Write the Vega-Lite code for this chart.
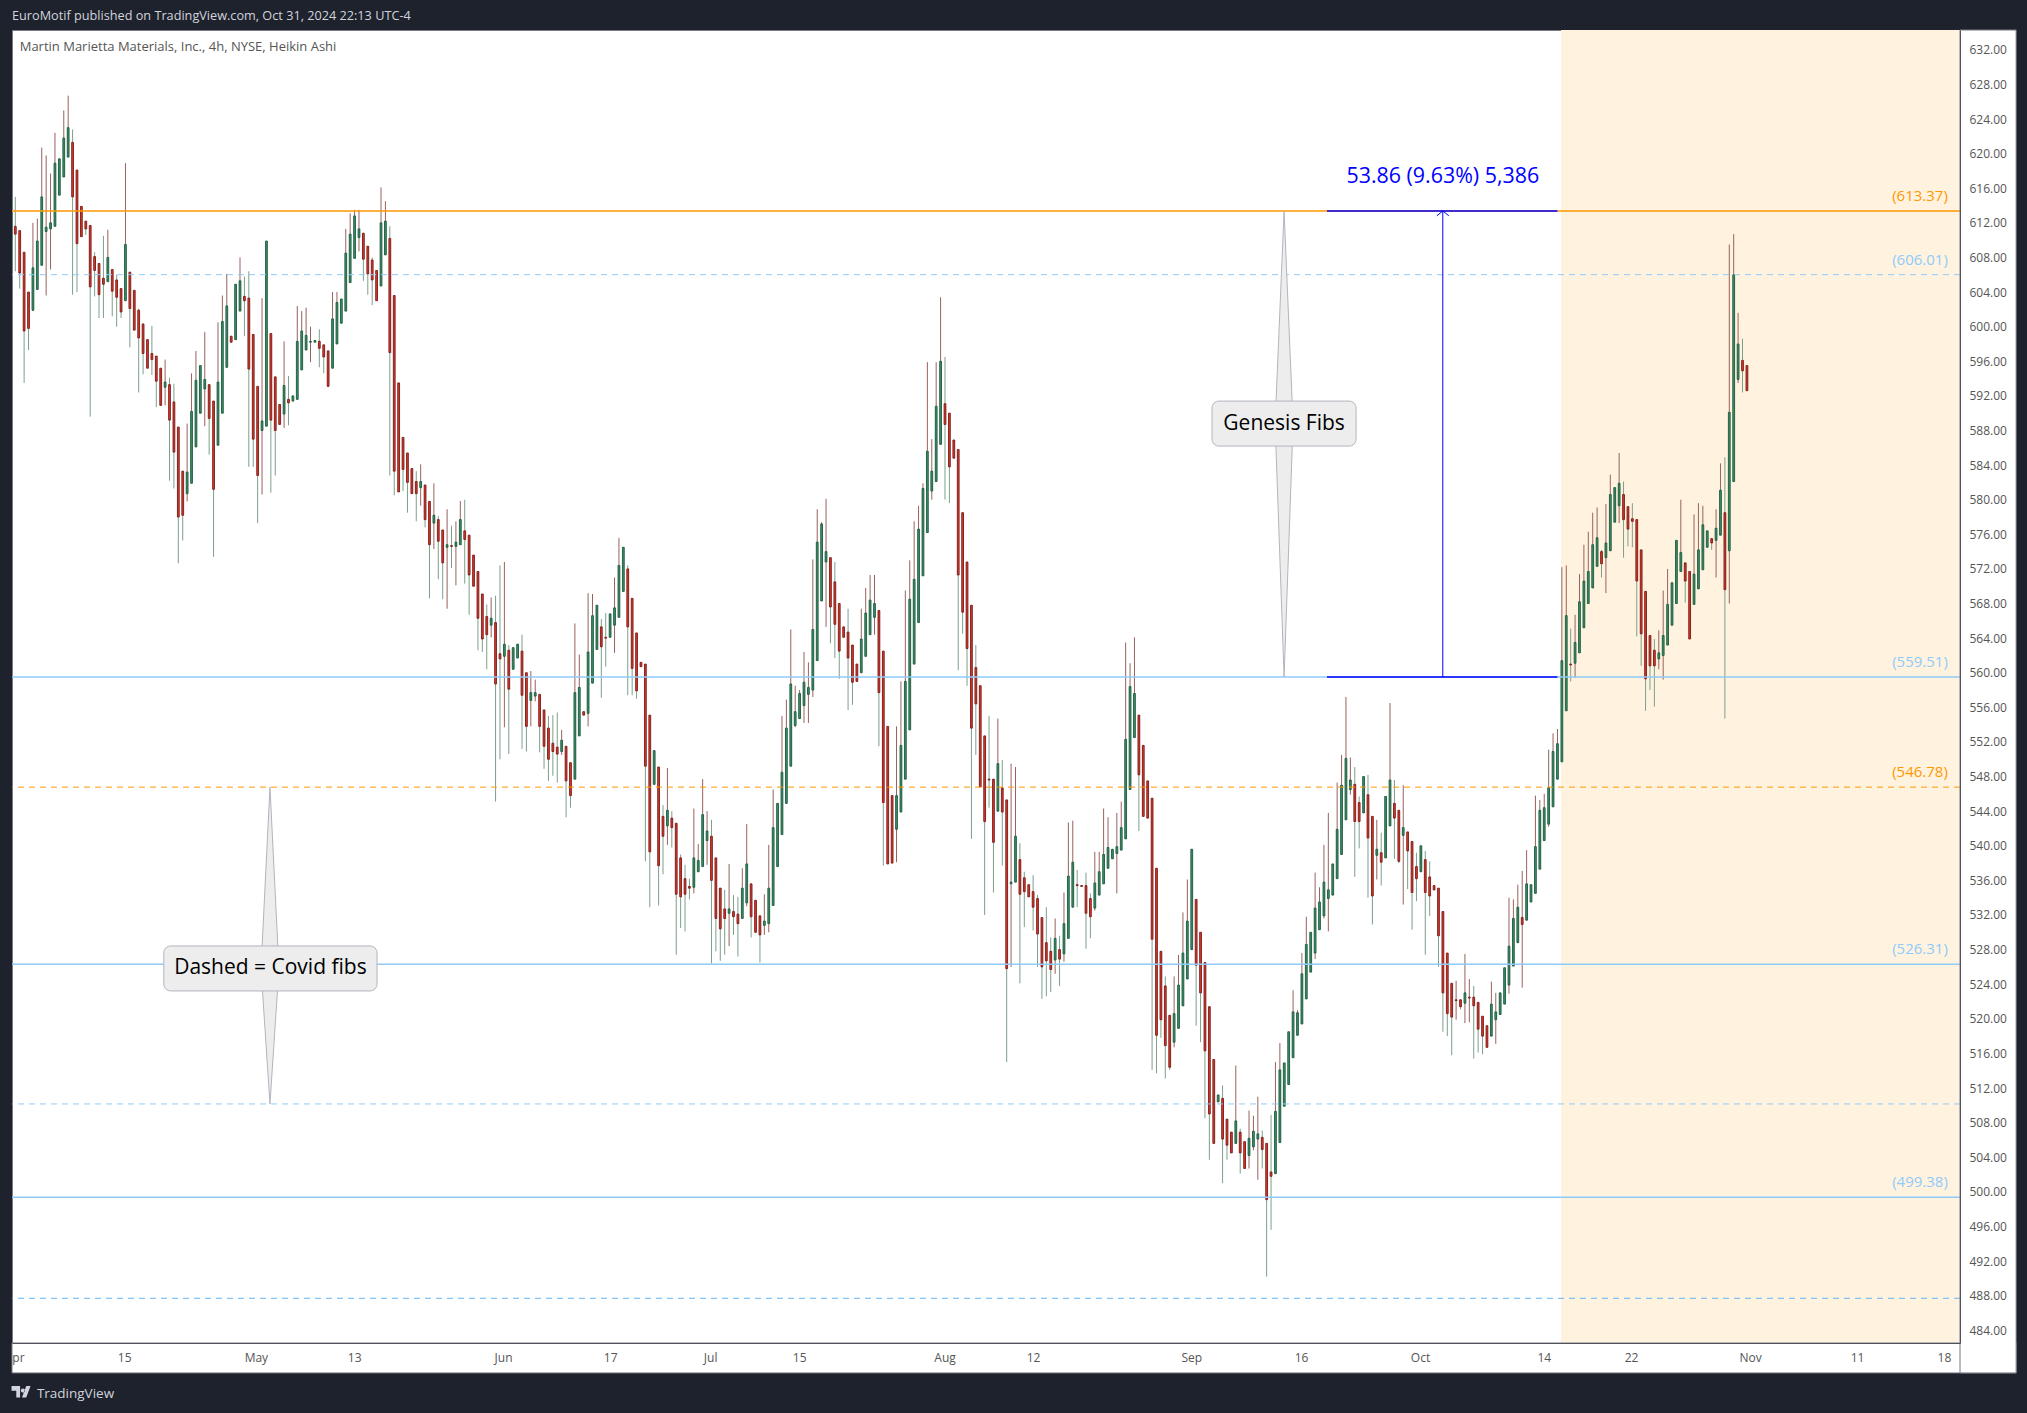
{"$schema":"https://vega.github.io/schema/vega-lite/v6.json","width":1948,"height":1313,"autosize":{"type":"none"},"padding":{"left":12,"top":30,"right":67,"bottom":70},"background":"#1e222d","title":{"text":"EuroMotif published on TradingView.com, Oct 31, 2024 22:13 UTC-4","anchor":"start","color":"#d1d4dc","fontSize":12.7,"font":"Open Sans","fontWeight":"normal","offset":7,"frame":"group"},"config":{"view":{"fill":"#ffffff","stroke":"#787b86"},"font":"Open Sans","axis":{"grid":false}},"datasets":{"candles":[
{"i":-1,"o":610.0,"c":613.1,"h":613.1,"l":610.0,"w":"u"},
{"i":0,"o":611.6,"c":610.7,"h":615.0,"l":606.4,"w":"u"},
{"i":1,"o":611.1,"c":606.2,"h":611.1,"l":604.4,"w":"u"},
{"i":2,"o":608.6,"c":599.5,"h":608.6,"l":593.5,"w":"u"},
{"i":3,"o":604.0,"c":599.8,"h":604.0,"l":597.3,"w":"u"},
{"i":4,"o":601.9,"c":606.8,"h":612.0,"l":601.8,"w":"d"},
{"i":5,"o":604.3,"c":609.9,"h":612.5,"l":604.3,"w":"d"},
{"i":6,"o":607.1,"c":615.0,"h":620.7,"l":607.1,"w":"d"},
{"i":7,"o":611.0,"c":611.5,"h":619.8,"l":603.6,"w":"d"},
{"i":8,"o":611.3,"c":612.0,"h":617.7,"l":606.6,"w":"d"},
{"i":9,"o":611.6,"c":618.9,"h":622.4,"l":611.6,"w":"d"},
{"i":10,"o":615.2,"c":619.4,"h":619.4,"l":615.2,"w":"u"},
{"i":11,"o":617.3,"c":621.8,"h":625.0,"l":617.3,"w":"d"},
{"i":12,"o":619.6,"c":623.0,"h":626.7,"l":619.6,"w":"d"},
{"i":13,"o":621.3,"c":615.0,"h":622.8,"l":603.7,"w":"u"},
{"i":14,"o":618.1,"c":609.6,"h":618.1,"l":604.0,"w":"u"},
{"i":15,"o":613.9,"c":610.4,"h":613.9,"l":610.4,"w":"u"},
{"i":16,"o":612.2,"c":611.3,"h":612.2,"l":610.6,"w":"u"},
{"i":17,"o":611.7,"c":604.6,"h":611.7,"l":589.6,"w":"u"},
{"i":18,"o":608.1,"c":606.5,"h":608.6,"l":603.5,"w":"u"},
{"i":19,"o":607.3,"c":603.7,"h":607.3,"l":601.0,"w":"u"},
{"i":20,"o":605.6,"c":604.9,"h":610.5,"l":601.0,"w":"u"},
{"i":21,"o":605.2,"c":608.0,"h":611.2,"l":605.2,"w":"d"},
{"i":22,"o":606.6,"c":604.1,"h":606.6,"l":601.2,"w":"u"},
{"i":23,"o":605.4,"c":603.4,"h":606.0,"l":600.0,"w":"u"},
{"i":24,"o":604.4,"c":601.7,"h":604.4,"l":601.0,"w":"u"},
{"i":25,"o":603.0,"c":609.5,"h":618.9,"l":603.0,"w":"d"},
{"i":26,"o":606.3,"c":602.1,"h":606.3,"l":597.6,"w":"u"},
{"i":27,"o":604.2,"c":599.6,"h":604.2,"l":599.6,"w":"u"},
{"i":28,"o":601.9,"c":598.7,"h":602.1,"l":592.4,"w":"u"},
{"i":29,"o":600.3,"c":596.9,"h":600.4,"l":594.5,"w":"u"},
{"i":30,"o":598.5,"c":595.2,"h":598.5,"l":595.2,"w":"u"},
{"i":31,"o":596.9,"c":596.2,"h":600.1,"l":594.4,"w":"u"},
{"i":32,"o":596.6,"c":593.7,"h":596.6,"l":590.7,"w":"u"},
{"i":33,"o":595.2,"c":590.9,"h":595.2,"l":590.9,"w":"u"},
{"i":34,"o":593.0,"c":593.6,"h":596.2,"l":590.9,"w":"d"},
{"i":35,"o":593.3,"c":589.2,"h":594.1,"l":582.2,"w":"u"},
{"i":36,"o":591.3,"c":585.5,"h":593.4,"l":581.3,"w":"u"},
{"i":37,"o":588.4,"c":578.0,"h":588.4,"l":572.65,"w":"u"},
{"i":38,"o":583.3,"c":578.2,"h":583.3,"l":575.3,"w":"u"},
{"i":39,"o":580.7,"c":583.2,"h":588.8,"l":579.8,"w":"d"},
{"i":40,"o":581.9,"c":590.2,"h":594.6,"l":581.9,"w":"d"},
{"i":41,"o":586.1,"c":593.8,"h":597.2,"l":586.1,"w":"d"},
{"i":42,"o":590.0,"c":595.5,"h":595.5,"l":590.0,"w":"d"},
{"i":43,"o":592.8,"c":593.9,"h":599.4,"l":588.5,"w":"d"},
{"i":44,"o":593.3,"c":589.4,"h":593.3,"l":585.2,"w":"u"},
{"i":45,"o":591.4,"c":581.2,"h":591.4,"l":573.4,"w":"u"},
{"i":46,"o":586.3,"c":593.6,"h":600.5,"l":586.3,"w":"d"},
{"i":47,"o":590.0,"c":600.6,"h":603.6,"l":590.0,"w":"d"},
{"i":48,"o":595.3,"c":602.4,"h":606.1,"l":595.3,"w":"d"},
{"i":49,"o":598.9,"c":598.2,"h":598.9,"l":598.2,"w":"u"},
{"i":50,"o":598.5,"c":604.9,"h":604.9,"l":598.5,"w":"d"},
{"i":51,"o":601.8,"c":605.3,"h":608.0,"l":601.8,"w":"d"},
{"i":52,"o":603.5,"c":603.0,"h":605.8,"l":598.9,"w":"u"},
{"i":53,"o":603.3,"c":595.1,"h":606.4,"l":583.8,"w":"u"},
{"i":54,"o":599.1,"c":587.0,"h":599.1,"l":583.8,"w":"u"},
{"i":55,"o":593.1,"c":582.8,"h":593.1,"l":577.3,"w":"u"},
{"i":56,"o":588.0,"c":589.1,"h":603.3,"l":580.6,"w":"d"},
{"i":57,"o":588.5,"c":609.9,"h":609.9,"l":588.5,"w":"d"},
{"i":58,"o":599.2,"c":589.2,"h":599.2,"l":580.8,"w":"u"},
{"i":59,"o":594.2,"c":588.0,"h":594.2,"l":582.8,"w":"u"},
{"i":60,"o":591.0,"c":588.7,"h":591.0,"l":588.7,"w":"u"},
{"i":61,"o":589.9,"c":593.2,"h":598.3,"l":588.3,"w":"d"},
{"i":62,"o":591.6,"c":591.2,"h":594.3,"l":588.6,"w":"u"},
{"i":63,"o":591.4,"c":592.0,"h":592.0,"l":591.4,"w":"u"},
{"i":64,"o":591.6,"c":598.3,"h":602.4,"l":591.6,"w":"d"},
{"i":65,"o":595.0,"c":599.5,"h":601.8,"l":595.0,"w":"d"},
{"i":66,"o":597.3,"c":599.0,"h":602.2,"l":597.3,"w":"d"},
{"i":67,"o":598.2,"c":598.3,"h":600.0,"l":595.9,"w":"d"},
{"i":68,"o":598.2,"c":598.4,"h":598.4,"l":598.2,"w":"u"},
{"i":69,"o":598.3,"c":597.5,"h":599.7,"l":595.3,"w":"u"},
{"i":70,"o":597.9,"c":596.5,"h":597.9,"l":594.6,"w":"u"},
{"i":71,"o":597.2,"c":593.1,"h":597.2,"l":593.1,"w":"u"},
{"i":72,"o":595.2,"c":600.9,"h":604.0,"l":595.2,"w":"d"},
{"i":73,"o":598.0,"c":602.8,"h":604.0,"l":598.0,"w":"d"},
{"i":74,"o":600.4,"c":603.2,"h":603.2,"l":600.4,"w":"d"},
{"i":75,"o":601.8,"c":608.5,"h":611.3,"l":601.8,"w":"d"},
{"i":76,"o":605.1,"c":610.7,"h":613.1,"l":605.1,"w":"d"},
{"i":77,"o":607.9,"c":612.8,"h":613.5,"l":607.9,"w":"d"},
{"i":78,"o":610.3,"c":611.3,"h":613.5,"l":608.7,"w":"d"},
{"i":79,"o":610.8,"c":607.8,"h":610.8,"l":605.3,"w":"u"},
{"i":80,"o":609.3,"c":606.1,"h":609.3,"l":603.7,"w":"u"},
{"i":81,"o":607.7,"c":605.4,"h":608.0,"l":602.5,"w":"u"},
{"i":82,"o":606.5,"c":603.0,"h":606.5,"l":603.0,"w":"u"},
{"i":83,"o":604.7,"c":612.0,"h":616.1,"l":604.7,"w":"d"},
{"i":84,"o":608.3,"c":612.2,"h":614.5,"l":608.3,"w":"d"},
{"i":85,"o":610.2,"c":597.0,"h":611.6,"l":582.8,"w":"u"},
{"i":86,"o":603.6,"c":583.3,"h":603.6,"l":580.5,"w":"u"},
{"i":87,"o":593.5,"c":580.9,"h":593.5,"l":580.9,"w":"u"},
{"i":88,"o":587.2,"c":583.5,"h":587.2,"l":581.0,"w":"u"},
{"i":89,"o":585.4,"c":582.0,"h":585.4,"l":578.5,"w":"u"},
{"i":90,"o":583.6,"c":580.7,"h":583.6,"l":580.7,"w":"u"},
{"i":91,"o":582.1,"c":580.7,"h":583.3,"l":577.5,"w":"u"},
{"i":92,"o":581.4,"c":582.1,"h":584.1,"l":579.3,"w":"d"},
{"i":93,"o":581.7,"c":577.7,"h":581.7,"l":576.8,"w":"u"},
{"i":94,"o":579.8,"c":574.8,"h":579.8,"l":568.6,"w":"u"},
{"i":95,"o":577.3,"c":578.2,"h":581.9,"l":574.3,"w":"d"},
{"i":96,"o":577.7,"c":575.2,"h":578.1,"l":570.8,"w":"u"},
{"i":97,"o":576.5,"c":572.7,"h":576.5,"l":568.5,"w":"u"},
{"i":98,"o":574.5,"c":574.8,"h":578.9,"l":567.4,"w":"d"},
{"i":99,"o":574.7,"c":574.6,"h":577.0,"l":572.1,"w":"u"},
{"i":100,"o":574.6,"c":575.1,"h":577.5,"l":570.1,"w":"d"},
{"i":101,"o":574.8,"c":577.7,"h":579.85,"l":574.8,"w":"d"},
{"i":102,"o":576.4,"c":575.4,"h":580.0,"l":570.3,"w":"u"},
{"i":103,"o":575.9,"c":571.3,"h":575.9,"l":566.7,"w":"u"},
{"i":104,"o":573.6,"c":570.0,"h":573.6,"l":570.0,"w":"u"},
{"i":105,"o":571.7,"c":566.3,"h":571.7,"l":562.6,"w":"u"},
{"i":106,"o":569.1,"c":563.9,"h":569.1,"l":562.4,"w":"u"},
{"i":107,"o":566.5,"c":564.4,"h":567.9,"l":560.4,"w":"u"},
{"i":108,"o":565.5,"c":566.3,"h":568.7,"l":564.1,"w":"d"},
{"i":109,"o":565.8,"c":558.7,"h":568.9,"l":545.1,"w":"u"},
{"i":110,"o":562.2,"c":561.6,"h":572.4,"l":550.0,"w":"u"},
{"i":111,"o":561.9,"c":563.3,"h":572.8,"l":553.7,"w":"d"},
{"i":112,"o":562.6,"c":558.1,"h":563.2,"l":550.6,"w":"u"},
{"i":113,"o":560.4,"c":562.9,"h":562.9,"l":560.4,"w":"u"},
{"i":114,"o":561.7,"c":563.3,"h":563.3,"l":561.7,"w":"u"},
{"i":115,"o":562.5,"c":557.4,"h":564.4,"l":551.2,"w":"u"},
{"i":116,"o":560.0,"c":553.8,"h":560.0,"l":550.9,"w":"u"},
{"i":117,"o":556.8,"c":557.7,"h":560.2,"l":553.8,"w":"d"},
{"i":118,"o":557.3,"c":557.7,"h":559.2,"l":556.7,"w":"d"},
{"i":119,"o":557.5,"c":553.8,"h":557.5,"l":550.8,"w":"u"},
{"i":120,"o":555.7,"c":551.5,"h":555.7,"l":548.9,"w":"u"},
{"i":121,"o":553.6,"c":550.0,"h":555.0,"l":547.5,"w":"u"},
{"i":122,"o":551.85,"c":550.9,"h":555.1,"l":548.1,"w":"u"},
{"i":123,"o":551.4,"c":550.6,"h":555.4,"l":547.3,"w":"u"},
{"i":124,"o":550.9,"c":552.2,"h":553.4,"l":550.5,"w":"d"},
{"i":125,"o":551.5,"c":547.5,"h":551.5,"l":543.3,"w":"u"},
{"i":126,"o":549.6,"c":545.8,"h":549.6,"l":544.4,"w":"u"},
{"i":127,"o":547.7,"c":557.7,"h":565.7,"l":547.7,"w":"d"},
{"i":128,"o":552.7,"c":558.3,"h":562.1,"l":552.7,"w":"d"},
{"i":129,"o":555.5,"c":555.1,"h":555.5,"l":555.1,"w":"u"},
{"i":130,"o":555.3,"c":562.4,"h":569.2,"l":553.8,"w":"d"},
{"i":131,"o":558.8,"c":566.6,"h":569.1,"l":558.8,"w":"d"},
{"i":132,"o":562.7,"c":567.8,"h":567.8,"l":562.7,"w":"d"},
{"i":133,"o":565.3,"c":563.0,"h":566.2,"l":557.1,"w":"u"},
{"i":134,"o":564.1,"c":564.0,"h":566.9,"l":560.7,"w":"u"},
{"i":135,"o":564.1,"c":566.8,"h":566.8,"l":564.1,"w":"d"},
{"i":136,"o":565.5,"c":567.5,"h":571.0,"l":562.3,"w":"d"},
{"i":137,"o":566.4,"c":572.4,"h":575.6,"l":566.4,"w":"d"},
{"i":138,"o":569.4,"c":574.5,"h":574.5,"l":569.4,"w":"d"},
{"i":139,"o":572.0,"c":565.3,"h":572.4,"l":557.4,"w":"u"},
{"i":140,"o":568.6,"c":560.5,"h":568.6,"l":557.4,"w":"u"},
{"i":141,"o":564.6,"c":557.9,"h":564.6,"l":557.0,"w":"u"},
{"i":142,"o":561.2,"c":560.7,"h":561.2,"l":560.7,"w":"u"},
{"i":143,"o":561.0,"c":549.2,"h":561.0,"l":538.2,"w":"u"},
{"i":144,"o":555.1,"c":539.3,"h":555.1,"l":532.9,"w":"u"},
{"i":145,"o":547.1,"c":551.0,"h":551.0,"l":547.1,"w":"u"},
{"i":146,"o":549.1,"c":537.7,"h":549.1,"l":533.1,"w":"u"},
{"i":147,"o":543.4,"c":541.1,"h":544.7,"l":536.7,"w":"u"},
{"i":148,"o":542.3,"c":544.1,"h":549.0,"l":540.1,"w":"d"},
{"i":149,"o":543.2,"c":542.1,"h":544.0,"l":539.8,"w":"u"},
{"i":150,"o":542.6,"c":534.4,"h":542.6,"l":527.4,"w":"u"},
{"i":151,"o":538.6,"c":534.1,"h":539.0,"l":530.5,"w":"u"},
{"i":152,"o":536.2,"c":534.4,"h":537.8,"l":530.1,"w":"u"},
{"i":153,"o":535.3,"c":535.1,"h":536.2,"l":533.8,"w":"u"},
{"i":154,"o":535.2,"c":538.6,"h":544.3,"l":534.5,"w":"d"},
{"i":155,"o":537.0,"c":538.3,"h":540.2,"l":537.0,"w":"d"},
{"i":156,"o":537.6,"c":543.6,"h":547.7,"l":537.6,"w":"d"},
{"i":157,"o":540.6,"c":541.7,"h":544.0,"l":537.8,"w":"d"},
{"i":158,"o":541.1,"c":536.0,"h":543.0,"l":526.4,"w":"u"},
{"i":159,"o":538.6,"c":531.6,"h":538.6,"l":527.8,"w":"u"},
{"i":160,"o":535.1,"c":530.4,"h":535.1,"l":526.7,"w":"u"},
{"i":161,"o":532.7,"c":531.6,"h":534.9,"l":527.4,"w":"u"},
{"i":162,"o":532.2,"c":532.7,"h":537.9,"l":528.4,"w":"d"},
{"i":163,"o":532.4,"c":531.8,"h":534.3,"l":529.7,"w":"u"},
{"i":164,"o":532.1,"c":531.0,"h":534.1,"l":527.2,"w":"u"},
{"i":165,"o":531.6,"c":535.1,"h":537.4,"l":531.6,"w":"d"},
{"i":166,"o":533.4,"c":537.9,"h":542.5,"l":533.0,"w":"d"},
{"i":167,"o":535.6,"c":531.8,"h":535.6,"l":529.4,"w":"u"},
{"i":168,"o":533.7,"c":530.0,"h":533.7,"l":530.0,"w":"u"},
{"i":169,"o":531.9,"c":529.7,"h":531.9,"l":526.5,"w":"u"},
{"i":170,"o":530.8,"c":531.3,"h":534.4,"l":529.7,"w":"d"},
{"i":171,"o":531.0,"c":535.1,"h":540.1,"l":530.0,"w":"d"},
{"i":172,"o":533.1,"c":542.1,"h":546.5,"l":533.1,"w":"d"},
{"i":173,"o":537.6,"c":544.9,"h":544.9,"l":537.6,"w":"d"},
{"i":174,"o":541.3,"c":548.5,"h":555.0,"l":541.3,"w":"d"},
{"i":175,"o":544.9,"c":553.6,"h":556.9,"l":544.9,"w":"d"},
{"i":176,"o":549.2,"c":558.7,"h":565.0,"l":549.2,"w":"d"},
{"i":177,"o":553.9,"c":555.5,"h":558.5,"l":553.7,"w":"d"},
{"i":178,"o":554.7,"c":557.6,"h":558.0,"l":554.7,"w":"d"},
{"i":179,"o":556.2,"c":558.9,"h":562.4,"l":554.2,"w":"d"},
{"i":180,"o":557.5,"c":558.3,"h":561.2,"l":554.2,"w":"d"},
{"i":181,"o":558.0,"c":565.0,"h":573.1,"l":557.2,"w":"d"},
{"i":182,"o":561.4,"c":575.1,"h":578.9,"l":561.4,"w":"d"},
{"i":183,"o":568.3,"c":577.2,"h":577.4,"l":568.3,"w":"d"},
{"i":184,"o":572.8,"c":574.0,"h":580.1,"l":565.3,"w":"d"},
{"i":185,"o":573.3,"c":567.6,"h":573.3,"l":563.4,"w":"u"},
{"i":186,"o":570.5,"c":565.6,"h":572.8,"l":561.7,"w":"u"},
{"i":187,"o":568.0,"c":562.5,"h":568.0,"l":559.3,"w":"u"},
{"i":188,"o":565.3,"c":564.1,"h":565.3,"l":564.1,"w":"u"},
{"i":189,"o":564.7,"c":561.7,"h":567.4,"l":555.7,"w":"u"},
{"i":190,"o":563.2,"c":558.9,"h":563.2,"l":556.3,"w":"u"},
{"i":191,"o":561.0,"c":559.0,"h":561.0,"l":559.0,"w":"u"},
{"i":192,"o":560.0,"c":563.9,"h":567.4,"l":560.0,"w":"d"},
{"i":193,"o":561.9,"c":566.9,"h":569.8,"l":561.9,"w":"d"},
{"i":194,"o":564.4,"c":568.4,"h":571.3,"l":564.4,"w":"d"},
{"i":195,"o":566.4,"c":568.0,"h":571.3,"l":564.4,"w":"d"},
{"i":196,"o":567.2,"c":557.7,"h":567.2,"l":551.5,"w":"u"},
{"i":197,"o":562.5,"c":545.0,"h":562.5,"l":537.7,"w":"u"},
{"i":198,"o":553.8,"c":537.9,"h":553.8,"l":537.9,"w":"u"},
{"i":199,"o":545.8,"c":538.0,"h":545.8,"l":538.0,"w":"u"},
{"i":200,"o":541.9,"c":545.8,"h":553.8,"l":538.1,"w":"d"},
{"i":201,"o":543.9,"c":551.6,"h":559.0,"l":543.9,"w":"d"},
{"i":202,"o":547.7,"c":559.0,"h":569.5,"l":547.7,"w":"d"},
{"i":203,"o":553.4,"c":568.5,"h":573.0,"l":553.4,"w":"d"},
{"i":204,"o":561.0,"c":570.8,"h":577.5,"l":561.0,"w":"d"},
{"i":205,"o":565.8,"c":576.6,"h":579.3,"l":565.8,"w":"d"},
{"i":206,"o":571.2,"c":581.3,"h":581.9,"l":571.2,"w":"d"},
{"i":207,"o":576.2,"c":585.6,"h":595.9,"l":576.2,"w":"d"},
{"i":208,"o":581.0,"c":583.3,"h":587.0,"l":580.0,"w":"d"},
{"i":209,"o":582.1,"c":590.8,"h":595.9,"l":582.1,"w":"d"},
{"i":210,"o":586.4,"c":596.0,"h":603.4,"l":586.4,"w":"d"},
{"i":211,"o":591.1,"c":588.7,"h":596.5,"l":580.0,"w":"u"},
{"i":212,"o":590.0,"c":583.8,"h":590.0,"l":579.6,"w":"u"},
{"i":213,"o":586.9,"c":584.8,"h":586.9,"l":584.8,"w":"u"},
{"i":214,"o":585.8,"c":571.3,"h":585.8,"l":560.3,"w":"u"},
{"i":215,"o":578.5,"c":567.0,"h":578.5,"l":564.5,"w":"u"},
{"i":216,"o":572.8,"c":562.8,"h":572.8,"l":558.5,"w":"u"},
{"i":217,"o":567.8,"c":553.6,"h":567.8,"l":540.8,"w":"u"},
{"i":218,"o":560.6,"c":556.4,"h":563.2,"l":550.5,"w":"u"},
{"i":219,"o":558.5,"c":546.8,"h":558.5,"l":546.8,"w":"u"},
{"i":220,"o":552.7,"c":542.8,"h":552.7,"l":532.0,"w":"u"},
{"i":221,"o":547.7,"c":547.6,"h":555.0,"l":544.4,"w":"u"},
{"i":222,"o":547.7,"c":540.4,"h":547.7,"l":534.6,"w":"u"},
{"i":223,"o":544.0,"c":549.5,"h":554.7,"l":544.0,"w":"d"},
{"i":224,"o":546.7,"c":543.9,"h":549.9,"l":537.7,"w":"u"},
{"i":225,"o":545.3,"c":525.8,"h":545.3,"l":515.0,"w":"u"},
{"i":226,"o":535.6,"c":535.8,"h":549.5,"l":526.0,"w":"d"},
{"i":227,"o":535.8,"c":541.1,"h":549.1,"l":535.8,"w":"d"},
{"i":228,"o":538.4,"c":534.4,"h":540.3,"l":524.1,"w":"u"},
{"i":229,"o":536.3,"c":534.7,"h":537.0,"l":530.6,"w":"u"},
{"i":230,"o":535.5,"c":534.1,"h":535.5,"l":534.1,"w":"u"},
{"i":231,"o":534.7,"c":532.9,"h":536.6,"l":530.2,"w":"u"},
{"i":232,"o":533.9,"c":529.8,"h":534.3,"l":526.0,"w":"u"},
{"i":233,"o":531.7,"c":526.0,"h":531.7,"l":522.3,"w":"u"},
{"i":234,"o":528.8,"c":526.7,"h":532.9,"l":522.6,"w":"u"},
{"i":235,"o":527.8,"c":525.7,"h":529.4,"l":523.1,"w":"u"},
{"i":236,"o":526.8,"c":529.3,"h":531.6,"l":525.2,"w":"d"},
{"i":237,"o":528.0,"c":526.9,"h":529.6,"l":523.8,"w":"u"},
{"i":238,"o":527.5,"c":531.0,"h":534.6,"l":526.6,"w":"d"},
{"i":239,"o":529.3,"c":536.5,"h":542.7,"l":529.3,"w":"d"},
{"i":240,"o":532.9,"c":538.1,"h":542.9,"l":532.9,"w":"d"},
{"i":241,"o":535.5,"c":535.4,"h":537.2,"l":532.9,"w":"u"},
{"i":242,"o":535.4,"c":535.3,"h":535.4,"l":535.3,"w":"u"},
{"i":243,"o":535.4,"c":532.2,"h":536.9,"l":528.1,"w":"u"},
{"i":244,"o":533.9,"c":531.8,"h":534.5,"l":529.3,"w":"u"},
{"i":245,"o":532.8,"c":535.7,"h":539.3,"l":532.5,"w":"d"},
{"i":246,"o":534.3,"c":537.0,"h":539.3,"l":534.3,"w":"d"},
{"i":247,"o":535.6,"c":539.0,"h":544.3,"l":535.6,"w":"d"},
{"i":248,"o":537.4,"c":539.8,"h":543.3,"l":537.4,"w":"d"},
{"i":249,"o":538.5,"c":539.6,"h":539.6,"l":538.5,"w":"d"},
{"i":250,"o":539.1,"c":539.9,"h":543.8,"l":534.5,"w":"d"},
{"i":251,"o":539.5,"c":542.1,"h":545.1,"l":539.5,"w":"d"},
{"i":252,"o":540.8,"c":552.3,"h":563.5,"l":540.8,"w":"d"},
{"i":253,"o":546.5,"c":558.4,"h":561.1,"l":546.5,"w":"d"},
{"i":254,"o":552.5,"c":557.6,"h":564.1,"l":552.5,"w":"d"},
{"i":255,"o":555.1,"c":548.2,"h":555.1,"l":541.7,"w":"u"},
{"i":256,"o":551.6,"c":543.4,"h":551.6,"l":543.4,"w":"u"},
{"i":257,"o":547.5,"c":543.2,"h":547.5,"l":543.2,"w":"u"},
{"i":258,"o":545.5,"c":529.2,"h":545.5,"l":514.1,"w":"u"},
{"i":259,"o":537.4,"c":518.1,"h":537.4,"l":513.7,"w":"u"},
{"i":260,"o":527.8,"c":519.9,"h":527.8,"l":517.8,"w":"u"},
{"i":261,"o":523.8,"c":516.9,"h":524.9,"l":513.1,"w":"u"},
{"i":262,"o":520.4,"c":514.4,"h":520.4,"l":514.1,"w":"u"},
{"i":263,"o":517.3,"c":520.6,"h":524.9,"l":516.7,"w":"d"},
{"i":264,"o":518.9,"c":523.9,"h":527.4,"l":518.9,"w":"d"},
{"i":265,"o":521.5,"c":527.6,"h":532.3,"l":521.5,"w":"d"},
{"i":266,"o":524.6,"c":531.3,"h":536.1,"l":524.6,"w":"d"},
{"i":267,"o":528.0,"c":539.6,"h":539.6,"l":528.0,"w":"d"},
{"i":268,"o":533.8,"c":526.2,"h":533.8,"l":519.2,"w":"u"},
{"i":269,"o":530.0,"c":523.0,"h":530.0,"l":517.3,"w":"u"},
{"i":270,"o":526.5,"c":516.3,"h":526.5,"l":508.5,"w":"u"},
{"i":271,"o":521.4,"c":509.0,"h":521.4,"l":503.7,"w":"u"},
{"i":272,"o":515.3,"c":505.6,"h":515.3,"l":505.6,"w":"u"},
{"i":273,"o":510.4,"c":511.2,"h":511.2,"l":510.4,"w":"u"},
{"i":274,"o":510.8,"c":506.1,"h":512.3,"l":501.0,"w":"u"},
{"i":275,"o":508.4,"c":505.4,"h":508.4,"l":503.7,"w":"u"},
{"i":276,"o":506.9,"c":504.5,"h":506.9,"l":504.5,"w":"u"},
{"i":277,"o":505.6,"c":508.2,"h":514.6,"l":505.6,"w":"d"},
{"i":278,"o":506.9,"c":504.5,"h":507.3,"l":502.1,"w":"u"},
{"i":279,"o":505.8,"c":502.7,"h":505.8,"l":502.7,"w":"u"},
{"i":280,"o":504.2,"c":506.2,"h":509.4,"l":502.7,"w":"d"},
{"i":281,"o":505.2,"c":507.0,"h":508.8,"l":504.8,"w":"d"},
{"i":282,"o":506.1,"c":506.7,"h":511.0,"l":501.4,"w":"d"},
{"i":283,"o":506.3,"c":504.9,"h":507.1,"l":502.7,"w":"u"},
{"i":284,"o":505.6,"c":499.1,"h":505.6,"l":490.2,"w":"u"},
{"i":285,"o":502.3,"c":501.8,"h":508.9,"l":495.6,"w":"u"},
{"i":286,"o":502.1,"c":509.3,"h":515.0,"l":502.1,"w":"d"},
{"i":287,"o":505.7,"c":514.1,"h":517.2,"l":505.7,"w":"d"},
{"i":288,"o":509.9,"c":514.9,"h":514.9,"l":509.9,"w":"d"},
{"i":289,"o":512.4,"c":518.5,"h":518.5,"l":512.4,"w":"d"},
{"i":290,"o":515.5,"c":520.8,"h":523.3,"l":515.5,"w":"d"},
{"i":291,"o":518.1,"c":520.7,"h":521.0,"l":518.1,"w":"d"},
{"i":292,"o":519.4,"c":525.2,"h":527.6,"l":519.4,"w":"d"},
{"i":293,"o":522.3,"c":528.6,"h":531.8,"l":522.3,"w":"d"},
{"i":294,"o":525.4,"c":530.0,"h":530.0,"l":525.4,"w":"d"},
{"i":295,"o":527.6,"c":532.8,"h":536.9,"l":526.9,"w":"d"},
{"i":296,"o":530.3,"c":533.5,"h":535.2,"l":530.3,"w":"d"},
{"i":297,"o":531.9,"c":535.8,"h":540.1,"l":531.6,"w":"d"},
{"i":298,"o":533.9,"c":534.9,"h":543.8,"l":530.1,"w":"d"},
{"i":299,"o":534.3,"c":537.9,"h":537.9,"l":534.3,"w":"d"},
{"i":300,"o":536.2,"c":541.9,"h":547.3,"l":536.2,"w":"d"},
{"i":301,"o":539.0,"c":547.0,"h":550.5,"l":539.0,"w":"d"},
{"i":302,"o":543.0,"c":550.1,"h":557.2,"l":543.0,"w":"d"},
{"i":303,"o":546.5,"c":547.6,"h":550.2,"l":545.9,"w":"d"},
{"i":304,"o":547.1,"c":542.8,"h":549.1,"l":536.4,"w":"u"},
{"i":305,"o":545.0,"c":542.8,"h":545.7,"l":539.7,"w":"u"},
{"i":306,"o":543.8,"c":548.0,"h":548.0,"l":543.8,"w":"d"},
{"i":307,"o":545.9,"c":540.9,"h":548.2,"l":534.0,"w":"u"},
{"i":308,"o":543.4,"c":534.2,"h":543.4,"l":530.9,"w":"u"},
{"i":309,"o":538.9,"c":539.6,"h":543.0,"l":536.1,"w":"d"},
{"i":310,"o":539.2,"c":538.1,"h":541.5,"l":535.4,"w":"u"},
{"i":311,"o":538.6,"c":545.7,"h":545.7,"l":538.6,"w":"d"},
{"i":312,"o":542.3,"c":547.6,"h":556.5,"l":542.3,"w":"d"},
{"i":313,"o":544.9,"c":543.2,"h":547.6,"l":538.5,"w":"u"},
{"i":314,"o":544.1,"c":538.2,"h":544.1,"l":538.0,"w":"u"},
{"i":315,"o":541.2,"c":542.1,"h":547.0,"l":533.2,"w":"d"},
{"i":316,"o":541.6,"c":539.4,"h":541.6,"l":535.0,"w":"u"},
{"i":317,"o":540.5,"c":534.6,"h":540.5,"l":530.3,"w":"u"},
{"i":318,"o":537.6,"c":536.2,"h":539.2,"l":533.6,"w":"u"},
{"i":319,"o":537.0,"c":540.0,"h":540.0,"l":537.0,"w":"d"},
{"i":320,"o":538.4,"c":534.6,"h":539.4,"l":527.4,"w":"u"},
{"i":321,"o":536.4,"c":534.2,"h":538.2,"l":531.9,"w":"u"},
{"i":322,"o":535.4,"c":534.9,"h":535.4,"l":534.9,"w":"u"},
{"i":323,"o":535.1,"c":529.6,"h":535.1,"l":526.0,"w":"u"},
{"i":324,"o":532.4,"c":523.0,"h":532.4,"l":518.5,"w":"u"},
{"i":325,"o":527.6,"c":520.6,"h":527.6,"l":518.0,"w":"u"},
{"i":326,"o":524.1,"c":520.2,"h":524.1,"l":515.8,"w":"u"},
{"i":327,"o":522.2,"c":522.1,"h":524.4,"l":519.9,"w":"d"},
{"i":328,"o":522.2,"c":521.4,"h":522.2,"l":521.1,"w":"u"},
{"i":329,"o":521.8,"c":523.0,"h":527.5,"l":519.5,"w":"d"},
{"i":330,"o":522.5,"c":522.4,"h":524.6,"l":519.6,"w":"d"},
{"i":331,"o":522.5,"c":521.5,"h":523.8,"l":515.4,"w":"u"},
{"i":332,"o":521.9,"c":518.8,"h":521.9,"l":516.1,"w":"u"},
{"i":333,"o":520.3,"c":518.0,"h":520.3,"l":515.9,"w":"u"},
{"i":334,"o":519.2,"c":516.7,"h":519.2,"l":516.7,"w":"u"},
{"i":335,"o":518.0,"c":521.7,"h":524.3,"l":518.0,"w":"d"},
{"i":336,"o":519.9,"c":520.8,"h":523.0,"l":517.1,"w":"d"},
{"i":337,"o":520.5,"c":523.0,"h":523.0,"l":520.5,"w":"d"},
{"i":338,"o":521.7,"c":525.9,"h":525.9,"l":521.7,"w":"d"},
{"i":339,"o":523.9,"c":528.4,"h":534.0,"l":522.9,"w":"d"},
{"i":340,"o":526.1,"c":531.6,"h":533.8,"l":526.1,"w":"d"},
{"i":341,"o":528.8,"c":532.9,"h":535.5,"l":528.8,"w":"d"},
{"i":342,"o":531.7,"c":530.9,"h":537.1,"l":523.6,"w":"d"},
{"i":343,"o":531.4,"c":535.6,"h":539.5,"l":531.4,"w":"d"},
{"i":344,"o":533.5,"c":535.5,"h":535.5,"l":533.5,"w":"d"},
{"i":345,"o":534.5,"c":539.9,"h":545.8,"l":534.5,"w":"d"},
{"i":346,"o":537.3,"c":544.1,"h":545.3,"l":537.3,"w":"d"},
{"i":347,"o":540.6,"c":544.4,"h":546.0,"l":540.6,"w":"d"},
{"i":348,"o":542.5,"c":546.7,"h":551.1,"l":542.2,"w":"d"},
{"i":349,"o":544.5,"c":550.9,"h":553.0,"l":544.5,"w":"d"},
{"i":350,"o":547.7,"c":551.8,"h":553.5,"l":547.7,"w":"d"},
{"i":351,"o":549.7,"c":561.4,"h":572.2,"l":549.7,"w":"d"},
{"i":352,"o":555.6,"c":566.6,"h":572.4,"l":555.6,"w":"d"},
{"i":353,"o":561.0,"c":560.9,"h":565.1,"l":559.0,"w":"u"},
{"i":354,"o":561.1,"c":563.5,"h":566.7,"l":559.4,"w":"d"},
{"i":355,"o":562.3,"c":568.2,"h":571.4,"l":562.3,"w":"d"},
{"i":356,"o":565.2,"c":570.6,"h":574.8,"l":565.2,"w":"d"},
{"i":357,"o":568.0,"c":571.7,"h":576.3,"l":568.0,"w":"d"},
{"i":358,"o":569.8,"c":574.8,"h":578.5,"l":569.8,"w":"d"},
{"i":359,"o":572.3,"c":575.6,"h":579.1,"l":572.3,"w":"d"},
{"i":360,"o":574.0,"c":572.6,"h":574.2,"l":571.0,"w":"u"},
{"i":361,"o":573.3,"c":575.0,"h":579.5,"l":569.2,"w":"d"},
{"i":362,"o":574.1,"c":580.6,"h":582.9,"l":574.1,"w":"d"},
{"i":363,"o":577.4,"c":581.4,"h":581.4,"l":577.4,"w":"d"},
{"i":364,"o":579.3,"c":581.9,"h":585.4,"l":577.3,"w":"d"},
{"i":365,"o":580.6,"c":577.7,"h":582.1,"l":573.3,"w":"u"},
{"i":366,"o":579.2,"c":576.6,"h":579.2,"l":574.6,"w":"u"},
{"i":367,"o":577.8,"c":577.5,"h":579.6,"l":574.5,"w":"u"},
{"i":368,"o":577.7,"c":570.6,"h":577.7,"l":564.2,"w":"u"},
{"i":369,"o":574.2,"c":564.5,"h":574.2,"l":560.8,"w":"u"},
{"i":370,"o":569.4,"c":559.3,"h":569.4,"l":555.6,"w":"u"},
{"i":371,"o":564.3,"c":560.8,"h":564.3,"l":558.0,"w":"u"},
{"i":372,"o":562.6,"c":560.8,"h":563.9,"l":556.1,"w":"u"},
{"i":373,"o":561.6,"c":562.3,"h":564.9,"l":560.4,"w":"d"},
{"i":374,"o":562.0,"c":564.3,"h":569.5,"l":559.2,"w":"d"},
{"i":375,"o":563.2,"c":567.9,"h":572.0,"l":563.2,"w":"d"},
{"i":376,"o":565.5,"c":570.4,"h":570.4,"l":565.5,"w":"d"},
{"i":377,"o":568.0,"c":575.3,"h":575.3,"l":568.0,"w":"d"},
{"i":378,"o":571.7,"c":573.9,"h":580.0,"l":571.7,"w":"d"},
{"i":379,"o":572.7,"c":570.6,"h":572.7,"l":568.1,"w":"u"},
{"i":380,"o":571.7,"c":563.9,"h":571.7,"l":563.9,"w":"u"},
{"i":381,"o":567.9,"c":571.4,"h":578.3,"l":567.9,"w":"d"},
{"i":382,"o":569.7,"c":574.2,"h":579.6,"l":569.7,"w":"d"},
{"i":383,"o":571.9,"c":577.1,"h":579.3,"l":571.9,"w":"d"},
{"i":384,"o":574.5,"c":576.4,"h":576.4,"l":574.5,"w":"u"},
{"i":385,"o":575.5,"c":575.0,"h":575.5,"l":574.2,"w":"u"},
{"i":386,"o":575.3,"c":576.7,"h":578.9,"l":571.0,"w":"d"},
{"i":387,"o":575.9,"c":581.1,"h":584.2,"l":575.9,"w":"d"},
{"i":388,"o":578.5,"c":569.6,"h":584.9,"l":554.7,"w":"u"},
{"i":389,"o":574.1,"c":590.1,"h":609.5,"l":568.0,"w":"d"},
{"i":390,"o":582.1,"c":606.0,"h":610.7,"l":582.1,"w":"d"},
{"i":391,"o":593.9,"c":598.0,"h":601.6,"l":593.5,"w":"d"},
{"i":392,"o":596.1,"c":594.9,"h":598.6,"l":592.4,"w":"u"},
{"i":393,"o":595.5,"c":592.6,"h":595.5,"l":592.6,"w":"u"}
],
"levels":[
{"price":613.37,"family":"orange","style":"solid","label":"(613.37)"},
{"price":606.01,"family":"blue","style":"dashed","label":"(606.01)"},
{"price":559.51,"family":"blue","style":"solid","label":"(559.51)"},
{"price":546.78,"family":"orange","style":"dashed","label":"(546.78)"},
{"price":526.31,"family":"blue","style":"solid","label":"(526.31)"},
{"price":510.16,"family":"blue","style":"dashed"},
{"price":499.38,"family":"blue","style":"solid","label":"(499.38)"},
{"price":487.7,"family":"deep","style":"dashed"}
],
"spikes":[
{"spike":"genesis","price":613.37,"left":287.96,"right":287.96},
{"spike":"genesis","price":588.8,"left":285.92,"right":290.0},
{"spike":"genesis","price":559.51,"left":287.96,"right":287.96},
{"spike":"covid","price":546.78,"left":57.8,"right":57.8},
{"spike":"covid","price":525.82,"left":55.76,"right":59.84},
{"spike":"covid","price":510.16,"left":57.8,"right":57.8}
],
"callouts":[
{"label":"Genesis Fibs","left":271.6,"right":304.3,"top":591.4,"bottom":586.2,"mid":287.96,"middle":588.8},
{"label":"Dashed = Covid fibs","left":33.7,"right":82.1,"top":528.42,"bottom":523.22,"mid":57.9,"middle":525.82}
],
"panels":[
{"a":-0.749,"b":454.1,"top":482.53,"bottom":479.07},
{"a":441.36,"b":454.1,"top":634.29,"bottom":479.07}
]},
"layer":[
{"data":{"values":[{"a":350.8,"b":441.36}]},"mark":{"type":"rect","color":"#fff3e0"},"encoding":{"x":{"field":"a","type":"quantitative","title":null,"scale":{"domain":[-0.749,441.36],"nice":false,"zero":false,"padding":0},"axis":{"orient":"bottom","title":null,"values":[0.6,24.7,54.6,76.9,110.7,135.0,157.7,177.9,210.9,231.0,266.9,291.8,318.8,346.9,366.7,393.7,418.0,437.7],"tickCount":30,"labelExpr":"['pr','15','May','13','Jun','17','Jul','15','Aug','12','Sep','16','Oct','14','22','Nov','11','18'][indexof([0.6,24.7,54.6,76.9,110.7,135.0,157.7,177.9,210.9,231.0,266.9,291.8,318.8,346.9,366.7,393.7,418.0,437.7],datum.value)]","tickSize":0,"labelPadding":9,"labelColor":"#555555","labelFontSize":12,"labelFont":"Open Sans","domainColor":"#50535e","labelOverlap":false,"labelBound":false,"labelFlush":false,"zindex":1}},"x2":{"field":"b"},"y":{"datum":634.29,"type":"quantitative","title":null,"scale":{"domain":[482.53,634.29],"nice":false,"zero":false},"axis":{"orient":"right","title":null,"values":[484,488,492,496,500,504,508,512,516,520,524,528,532,536,540,544,548,552,556,560,564,568,572,576,580,584,588,592,596,600,604,608,612,616,620,624,628,632],"tickCount":50,"format":".2f","tickSize":0,"labelPadding":9,"labelColor":"#555555","labelFontSize":12,"labelFont":"Open Sans","domainColor":"#50535e","labelOverlap":false,"labelBound":false,"labelFlush":false,"zindex":1}},"y2":{"datum":482.53}}},
{"data":{"name":"candles"},"mark":{"type":"rule","strokeWidth":1,"clip":true},"encoding":{"x":{"field":"i","type":"quantitative","title":null,"scale":{"domain":[-0.749,441.36],"nice":false,"zero":false,"padding":0}},"y":{"field":"h","type":"quantitative","title":null,"scale":{"domain":[482.53,634.29],"nice":false,"zero":false}},"y2":{"field":"l"},"color":{"field":"w","type":"nominal","legend":null,"scale":{"domain":["u","d","orange","blue","deep"],"range":["#7c9f8c","#98625c","#ff9800","#90caf9","#64b5f6"]}}}},
{"data":{"name":"candles"},"mark":{"type":"bar","size":1.8,"strokeWidth":0.9,"orient":"vertical","clip":true},"encoding":{"x":{"field":"i","type":"quantitative","title":null,"scale":{"domain":[-0.749,441.36],"nice":false,"zero":false,"padding":0}},"y":{"field":"o","type":"quantitative","title":null,"scale":{"domain":[482.53,634.29],"nice":false,"zero":false}},"y2":{"field":"c"},"fill":{"condition":{"test":"datum.c>=datum.o","value":"#3d8f68"},"value":"#d83a2b"},"stroke":{"condition":{"test":"datum.c>=datum.o","value":"#1d5a3e"},"value":"#7a1a16"}}},
{"data":{"name":"levels"},"mark":{"type":"rule"},"encoding":{"y":{"field":"price","type":"quantitative","title":null,"scale":{"domain":[482.53,634.29],"nice":false,"zero":false}},"color":{"field":"family","type":"nominal","legend":null,"scale":{"domain":["u","d","orange","blue","deep"],"range":["#7c9f8c","#98625c","#ff9800","#90caf9","#64b5f6"]}},"strokeDash":{"field":"style","type":"nominal","legend":null,"scale":{"domain":["solid","dashed"],"range":[[1,0],[6,5]]}},"strokeWidth":{"field":"style","type":"nominal","legend":null,"scale":{"domain":["solid","dashed"],"range":[1.6,1]}}}},
{"data":{"name":"levels"},"transform":[{"filter":"isValid(datum.label)"}],"mark":{"type":"text","align":"right","baseline":"middle","dy":-15,"fontSize":15,"font":"Open Sans"},"encoding":{"x":{"datum":438.6,"type":"quantitative","title":null,"scale":{"domain":[-0.749,441.36],"nice":false,"zero":false,"padding":0}},"y":{"field":"price","type":"quantitative","title":null,"scale":{"domain":[482.53,634.29],"nice":false,"zero":false}},"text":{"field":"label"},"color":{"field":"family","type":"nominal","legend":null,"scale":{"domain":["u","d","orange","blue","deep"],"range":["#7c9f8c","#98625c","#ff9800","#90caf9","#64b5f6"]}}}},
{"data":{"name":"spikes"},"mark":{"type":"area","orient":"horizontal","fill":"#ededed","stroke":"#b2b5be","strokeWidth":1},"encoding":{"y":{"field":"price","type":"quantitative","title":null,"scale":{"domain":[482.53,634.29],"nice":false,"zero":false}},"x":{"field":"left","type":"quantitative","title":null,"scale":{"domain":[-0.749,441.36],"nice":false,"zero":false,"padding":0}},"x2":{"field":"right"},"detail":{"field":"spike"}}},
{"data":{"name":"callouts"},"mark":{"type":"rect","fill":"#ededed","stroke":"#b2b5be","strokeWidth":1,"cornerRadius":7},"encoding":{"x":{"field":"left","type":"quantitative","title":null,"scale":{"domain":[-0.749,441.36],"nice":false,"zero":false,"padding":0}},"x2":{"field":"right"},"y":{"field":"top","type":"quantitative","title":null,"scale":{"domain":[482.53,634.29],"nice":false,"zero":false}},"y2":{"field":"bottom"}}},
{"data":{"name":"callouts"},"mark":{"type":"text","fontSize":21,"font":"Open Sans","color":"#000000","baseline":"middle"},"encoding":{"x":{"field":"mid","type":"quantitative","title":null,"scale":{"domain":[-0.749,441.36],"nice":false,"zero":false,"padding":0}},"y":{"field":"middle","type":"quantitative","title":null,"scale":{"domain":[482.53,634.29],"nice":false,"zero":false}},"text":{"field":"label"}}},
{"data":{"values":[{"a":297.7,"b":350.0,"price":613.37},{"a":297.7,"b":350.0,"price":559.51}]},"mark":{"type":"rule","color":"#0000ff","strokeWidth":1.3},"encoding":{"x":{"field":"a","type":"quantitative","title":null,"scale":{"domain":[-0.749,441.36],"nice":false,"zero":false,"padding":0}},"x2":{"field":"b"},"y":{"field":"price","type":"quantitative","title":null,"scale":{"domain":[482.53,634.29],"nice":false,"zero":false}}}},
{"data":{"values":[{"a":323.98,"from":559.51,"to":613.37}]},"mark":{"type":"rule","color":"#0000ff","strokeWidth":1},"encoding":{"x":{"field":"a","type":"quantitative","title":null,"scale":{"domain":[-0.749,441.36],"nice":false,"zero":false,"padding":0}},"y":{"field":"from","type":"quantitative","title":null,"scale":{"domain":[482.53,634.29],"nice":false,"zero":false}},"y2":{"field":"to"}}},
{"data":{"values":[{"a":323.98,"to":613.37}]},"mark":{"type":"point","shape":"M-1,0.8L0,0L1,0.8","filled":false,"size":144,"stroke":"#0000ff","strokeWidth":1,"opacity":1},"encoding":{"x":{"field":"a","type":"quantitative","title":null,"scale":{"domain":[-0.749,441.36],"nice":false,"zero":false,"padding":0}},"y":{"field":"to","type":"quantitative","title":null,"scale":{"domain":[482.53,634.29],"nice":false,"zero":false}}}},
{"data":{"values":[{"a":323.98,"at":617.3,"text":"53.86 (9.63%) 5,386"}]},"mark":{"type":"text","fontSize":21.4,"font":"Open Sans","color":"#0000ff","baseline":"middle"},"encoding":{"x":{"field":"a","type":"quantitative","title":null,"scale":{"domain":[-0.749,441.36],"nice":false,"zero":false,"padding":0}},"y":{"field":"at","type":"quantitative","title":null,"scale":{"domain":[482.53,634.29],"nice":false,"zero":false}},"text":{"field":"text"}}},
{"data":{"values":[{"a":1.0,"at":632.35,"text":"Martin Marietta Materials, Inc., 4h, NYSE, Heikin Ashi"}]},"mark":{"type":"text","fontSize":13,"font":"Open Sans","color":"#555555","align":"left","baseline":"middle"},"encoding":{"x":{"field":"a","type":"quantitative","title":null,"scale":{"domain":[-0.749,441.36],"nice":false,"zero":false,"padding":0}},"y":{"field":"at","type":"quantitative","title":null,"scale":{"domain":[482.53,634.29],"nice":false,"zero":false}},"text":{"field":"text"}}},
{"data":{"name":"panels"},"mark":{"type":"rect","fill":"#ffffff","stroke":"#787b86","strokeWidth":1},"encoding":{"x":{"field":"a","type":"quantitative","title":null,"scale":{"domain":[-0.749,441.36],"nice":false,"zero":false,"padding":0}},"x2":{"field":"b"},"y":{"field":"top","type":"quantitative","title":null,"scale":{"domain":[482.53,634.29],"nice":false,"zero":false}},"y2":{"field":"bottom"}}},
{"data":{"values":[{"a":4.9,"at":476.6,"text":"TradingView"}]},"mark":{"type":"text","fontSize":13.5,"font":"Open Sans","color":"#d1d4dc","align":"left","baseline":"middle"},"encoding":{"x":{"field":"a","type":"quantitative","title":null,"scale":{"domain":[-0.749,441.36],"nice":false,"zero":false,"padding":0}},"y":{"field":"at","type":"quantitative","title":null,"scale":{"domain":[482.53,634.29],"nice":false,"zero":false}},"text":{"field":"text"}}},
{"data":{"values":[{"a":1.3,"at":476.9}]},"mark":{"type":"point","shape":"M-1,-0.6H-0.1V0.6H-0.5V-0.1H-1ZM0.2,-0.35a0.22,0.22 0 1 0 0.001,0ZM0.55,-0.6H1L0.55,0.6H0.1Z","filled":true,"size":361,"fill":"#d1d4dc","opacity":1,"strokeWidth":0},"encoding":{"x":{"field":"a","type":"quantitative","title":null,"scale":{"domain":[-0.749,441.36],"nice":false,"zero":false,"padding":0}},"y":{"field":"at","type":"quantitative","title":null,"scale":{"domain":[482.53,634.29],"nice":false,"zero":false}}}}
]}
